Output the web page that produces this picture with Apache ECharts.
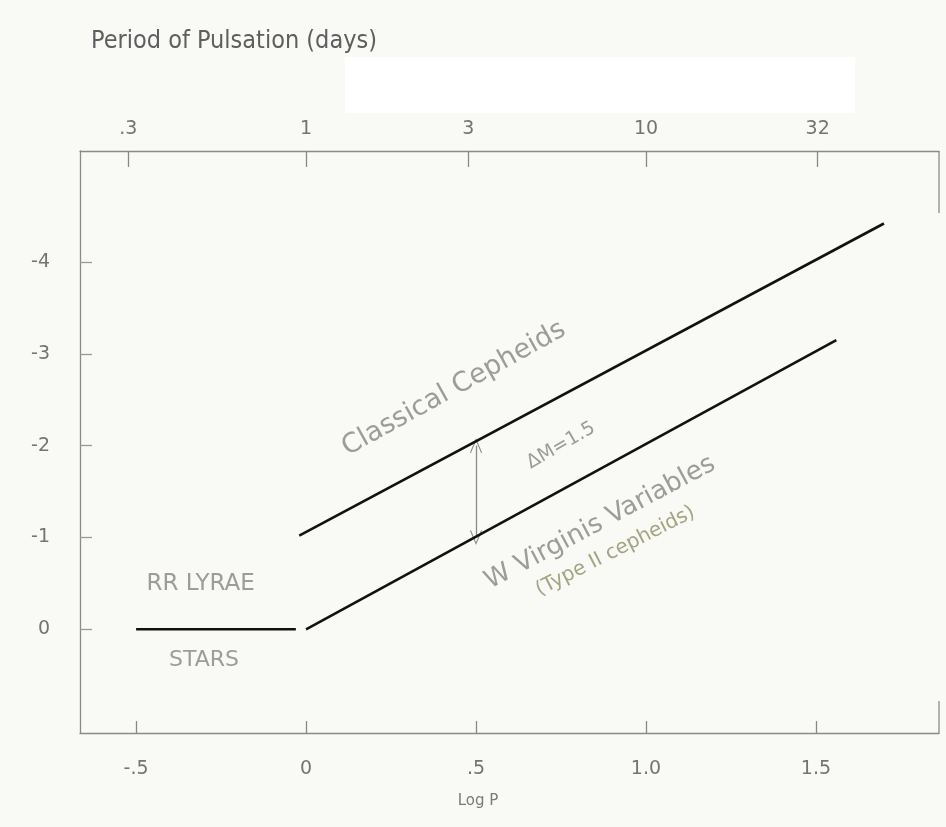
<!DOCTYPE html>
<html>
<head>
<meta charset="utf-8">
<script src="https://cdn.jsdelivr.net/npm/echarts@6.0.0/dist/echarts.min.js"></script>
<style>
  html, body { margin: 0; padding: 0; background: #f9faf6; }
  #chart { width: 946px; height: 827px; }
</style>
</head>
<body>
<div id="chart"></div>
<script>
// axis ticks
const logPTicks = [-0.5, 0, 0.5, 1.0, 1.5];
const logPLabels = ['-.5', '0', '.5', '1.0', '1.5'];
const periodTicks = [0.3, 1, 3, 10, 32];
const periodLabels = ['.3', '1', '3', '10', '32'];
const magnitudeTicks = [-4, -3, -2, -1, 0];
const logPRange = [-0.665, 1.862];
const magnitudeRange = [-5.21, 1.13];

// period-luminosity relations, [log P, M]
const rrLyrae = [[-0.5, 0], [-0.03, 0]];
const classicalCepheids = [[-0.02, -1.02], [1.70, -4.42]];
const wVirginis = [[0, 0], [1.56, -3.15]];
const deltaM = [[0.5, -2.0], [0.5, -1.0]];

// hand written notes and where they sit, [log P, M]
const noteTexts = ['Classical Cepheids', 'ΔM=1.5', 'W Virginis Variables', '(Type II cepheids)', 'RR LYRAE', 'STARS'];
const noteAnchors = [[0.435, -2.62], [0.75, -2.0], [0.865, -1.16], [0.91, -0.85], [-0.31, -0.49], [-0.3, 0.34]];

const ink = '#858585';
const hand = '"DejaVu Sans", sans-serif';
const noteStyles = [
  { rotate: 29, fontSize: 27, color: ink },
  { rotate: 30, fontSize: 19, color: ink },
  { rotate: 28, fontSize: 26, color: ink },
  { rotate: 27, fontSize: 20, color: '#8f8f66' },
  { rotate: 0, fontSize: 23, color: ink },
  { rotate: 0, fontSize: 22, color: ink }
];

const chart = echarts.init(document.getElementById('chart'), null, { renderer: 'canvas' });

function tickLabel(values, labels) {
  return function(value) {
    const i = values.findIndex(v => Math.abs(v - value) < 1e-6);
    return i >= 0 ? labels[i] : '';
  };
}

const periodLogTicks = periodTicks.map(p => Math.log10(p));

const axisLine = { show: true, onZero: false, lineStyle: { color: '#8a8a8a', width: 1.3 } };
const labelFont = { color: '#747474', fontSize: 19, fontFamily: '"DejaVu Sans", sans-serif' };

function blackLine(name, data) {
  return {
    name: name,
    type: 'line',
    data: data,
    symbol: 'none',
    silent: true,
    lineStyle: { color: '#111', width: 2.6 },
    z: 5
  };
}

const option = {
  backgroundColor: '#f9faf6',
  animation: false,
  title: {
    text: 'Period of Pulsation (days)',
    left: 86,
    top: 24,
    textStyle: {
      fontSize: 25,
      fontWeight: 'normal',
      color: '#5e5e5e',
      fontFamily: '"Liberation Sans Narrow", "DejaVu Sans Condensed", sans-serif'
    }
  },
  grid: { left: 80, right: 7, top: 151, bottom: 94, outerBoundsMode: 'none' },
  xAxis: [
    {
      type: 'value',
      position: 'bottom',
      min: logPRange[0],
      max: logPRange[1],
      splitLine: { show: false },
      axisLine: axisLine,
      axisTick: { inside: true, length: 12, lineStyle: { color: '#888', width: 1.3 }, customValues: logPTicks },
      axisLabel: Object.assign({ margin: 27, customValues: logPTicks, formatter: tickLabel(logPTicks, logPLabels) }, labelFont)
    },
    {
      type: 'value',
      position: 'top',
      min: logPRange[0],
      max: logPRange[1],
      splitLine: { show: false },
      axisLine: axisLine,
      axisTick: { inside: true, length: 16, lineStyle: { color: '#888', width: 1.3 }, customValues: periodLogTicks },
      axisLabel: Object.assign({ margin: 12, customValues: periodLogTicks, formatter: tickLabel(periodLogTicks, periodLabels) }, labelFont)
    }
  ],
  yAxis: {
    type: 'value',
    inverse: true,
    min: magnitudeRange[0],
    max: magnitudeRange[1],
    splitLine: { show: false },
    axisLine: axisLine,
    axisTick: { inside: true, length: 12, lineStyle: { color: '#999', width: 1.3 }, customValues: magnitudeTicks },
    axisLabel: Object.assign({ margin: 30, customValues: magnitudeTicks, formatter: v => String(v) }, labelFont)
  },
  series: [
    blackLine('RR Lyrae', rrLyrae),
    blackLine('Classical Cepheids', classicalCepheids),
    Object.assign(blackLine('W Virginis', wVirginis), {
      markLine: {
        silent: true,
        symbol: ['path://M10,0 L20,18 L18.6,19 L10,3.5 L1.4,19 L0,18 Z', 'path://M10,0 L20,18 L18.6,19 L10,3.5 L1.4,19 L0,18 Z'],
        symbolSize: [12, 15],
        label: { show: false },
        lineStyle: { color: '#8a8a8a', width: 1.3, type: 'solid' },
        data: [[{ coord: deltaM[0] }, { coord: deltaM[1] }]]
      }
    }),
    {
      name: 'notes',
      type: 'scatter',
      symbolSize: 0,
      silent: true,
      data: noteAnchors.map((p, i) => ({
        value: p,
        label: Object.assign({
          show: true,
          position: 'inside',
          formatter: noteTexts[i],
          fontFamily: hand
        }, noteStyles[i])
      }))
    }
  ]
};

chart.setOption(option);

// the erased patch above the top axis and the two stubs of the right frame
const topRight = chart.convertToPixel({ xAxisIndex: 0, yAxisIndex: 0 }, [logPRange[1], magnitudeRange[0]]);
const bottomRight = chart.convertToPixel({ xAxisIndex: 0, yAxisIndex: 0 }, [logPRange[1], magnitudeRange[1]]);
chart.setOption({
  graphic: [
    { type: 'rect', z: -1, shape: { x: 345, y: 57, width: 510, height: 56 }, style: { fill: '#ffffff' } },
    { type: 'line', shape: { x1: topRight[0], y1: topRight[1], x2: topRight[0], y2: topRight[1] + 62 }, style: { stroke: '#8a8a8a', lineWidth: 1.3 } },
    { type: 'line', shape: { x1: bottomRight[0], y1: bottomRight[1] - 32, x2: bottomRight[0], y2: bottomRight[1] }, style: { stroke: '#8a8a8a', lineWidth: 1.3 } },
    { type: 'text', x: 478, y: 801, style: { text: 'Log P', fill: '#7a7a7a', fontSize: 15, fontFamily: '"DejaVu Sans", sans-serif', align: 'center', verticalAlign: 'middle' } }
  ]
});
</script>
</body>
</html>
